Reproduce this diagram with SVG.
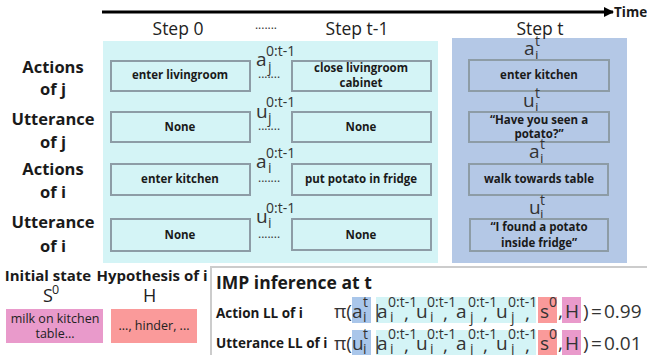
<svg xmlns="http://www.w3.org/2000/svg" width="647" height="355" viewBox="0 0 647 355">
<style>
text{font-family:"Open Sans","Liberation Sans",sans-serif;fill:#1a1a1a}
.lbl{font-size:16.5px;font-weight:700;text-anchor:middle}
.step{font-size:17.5px;text-anchor:middle;fill:#222}
.box{stroke:#8d9ca6;stroke-width:2}
.cb{fill:#d4f4f6}
.bb{fill:#b4c8e6}
.bt{font-size:11.5px;font-weight:700;text-anchor:middle}
.v{font-size:19px;fill:#333}
.sp{font-size:14px;fill:#333}
.dots{font-size:12px;fill:#333}
.f{font-size:19px;fill:#333}
.fs{font-size:14px;fill:#333}
.bh{font-size:15px;font-weight:700}
</style>
<defs>
<marker id="ah" viewBox="0 0 10 10" refX="9" refY="5" markerWidth="3.4" markerHeight="3.4" orient="auto"><path d="M0,0 L10,5 L0,10 z" fill="#000"/></marker>
</defs>

<g id="connectors">
<line x1="102" y1="12" x2="613" y2="12" stroke="#000" stroke-width="3" marker-end="url(#ah)"/>
</g>
<text x="614" y="17" style="font-size:13.5px;font-weight:700">Time</text>

<rect x="103" y="41" width="335" height="222" class="cb"/>
<rect x="452" y="38" width="175" height="225" class="bb"/>

<text x="178" y="35" class="step">Step 0</text>
<text x="266" y="29" class="dots" text-anchor="middle">.......</text>
<text x="357" y="35" class="step">Step t-1</text>
<text x="540" y="35" class="step">Step t</text>

<g id="row-labels">
<text x="53" y="73" class="lbl">Actions</text>
<text x="53" y="95" class="lbl">of j</text>
<text x="53" y="125" class="lbl">Utterance</text>
<text x="53" y="148" class="lbl">of j</text>
<text x="53" y="175" class="lbl">Actions</text>
<text x="53" y="198" class="lbl">of i</text>
<text x="53" y="228" class="lbl">Utterance</text>
<text x="53" y="252" class="lbl">of i</text>
</g>

<g id="s0-aj"><rect x="111" y="61" width="139" height="30" class="box cb"/><text x="180" y="79" class="bt">enter livingroom</text></g>
<g id="s0-uj"><rect x="111" y="112" width="139" height="30" class="box cb"/><text x="180" y="131" class="bt">None</text></g>
<g id="s0-ai"><rect x="111" y="164" width="139" height="31" class="box cb"/><text x="180" y="183" class="bt">enter kitchen</text></g>
<g id="s0-ui"><rect x="111" y="219" width="139" height="32" class="box cb"/><text x="180" y="239" class="bt">None</text></g>

<g id="hist-aj"><text x="256" y="66" class="v">a</text><text x="266" y="56" class="sp">0:t-1</text><text x="268" y="72" class="sp">j</text><text x="258" y="78" class="dots">.......</text></g>
<g id="hist-uj"><text x="256" y="118" class="v">u</text><text x="266" y="107" class="sp">0:t-1</text><text x="268" y="123" class="sp">j</text><text x="258" y="130" class="dots">.......</text></g>
<g id="hist-ai"><text x="256" y="168" class="v">a</text><text x="266" y="158" class="sp">0:t-1</text><text x="268" y="173" class="sp">i</text><text x="258" y="182" class="dots">.......</text></g>
<g id="hist-ui"><text x="256" y="223" class="v">u</text><text x="266" y="213" class="sp">0:t-1</text><text x="268" y="228" class="sp">i</text><text x="258" y="238" class="dots">.......</text></g>

<g id="st1-aj"><rect x="292" y="61" width="139" height="30" class="box cb"/><text x="361" y="72" class="bt">close livingroom</text><text x="361" y="87" class="bt">cabinet</text></g>
<g id="st1-uj"><rect x="292" y="112" width="139" height="30" class="box cb"/><text x="361" y="131" class="bt">None</text></g>
<g id="st1-ai"><rect x="292" y="164" width="139" height="31" class="box cb"/><text x="361" y="183" class="bt">put potato in fridge</text></g>
<g id="st1-ui"><rect x="292" y="219" width="139" height="31" class="box cb"/><text x="361" y="239" class="bt">None</text></g>

<g id="lab-ajt"><text x="524" y="55" class="v">a</text><text x="535" y="46" class="sp">t</text><text x="535" y="61" class="sp">j</text></g>
<g id="st-aj"><rect x="469" y="60" width="140" height="31" class="box bb"/><text x="539" y="79" class="bt">enter kitchen</text></g>
<g id="lab-ujt"><text x="523" y="107" class="v">u</text><text x="535" y="98" class="sp">t</text><text x="535" y="113" class="sp">j</text></g>
<g id="st-uj"><rect x="469" y="112" width="140" height="30" class="box bb"/><text x="539" y="124" class="bt">“Have you seen a</text><text x="539" y="138" class="bt">potato?”</text></g>
<g id="lab-ait"><text x="529" y="158" class="v">a</text><text x="540" y="149" class="sp">t</text><text x="540" y="164" class="sp">i</text></g>
<g id="st-ai"><rect x="469" y="164" width="139" height="31" class="box bb"/><text x="539" y="183" class="bt">walk towards table</text></g>
<g id="lab-uit"><text x="529" y="214" class="v">u</text><text x="540" y="205" class="sp">t</text><text x="540" y="220" class="sp">i</text></g>
<g id="st-ui"><rect x="470" y="219" width="138" height="32" class="box bb"/><text x="539" y="231" class="bt">“I found a potato</text><text x="539" y="247" class="bt">inside fridge”</text></g>

<g id="initial-state">
<text x="48" y="281" class="bh" text-anchor="middle">Initial state</text>
<text x="43" y="302" style="font-size:18px;fill:#222">S</text><text x="52" y="294" style="font-size:12.5px;fill:#222">0</text>
<rect x="6" y="309" width="97" height="34" fill="#e99acb"/>
<text x="55" y="323" text-anchor="middle" style="font-size:12.5px;fill:#222">milk on kitchen</text>
<text x="55" y="338" text-anchor="middle" style="font-size:12.5px;fill:#222">table...</text>
</g>
<g id="hypothesis">
<text x="152" y="281" class="bh" text-anchor="middle">Hypothesis of i</text>
<text x="143" y="302" style="font-size:18px;fill:#222">H</text>
<rect x="111" y="309" width="86" height="34" fill="#fa9a9a"/>
<text x="154" y="330" text-anchor="middle" style="font-size:12.5px;fill:#222">..., hinder, ...</text>
</g>

<g id="imp">
<rect x="211" y="267" width="445" height="100" fill="#fff" stroke="#cccccc" stroke-width="2"/>
<text x="216" y="289" style="font-size:17.5px;font-weight:700">IMP inference at t</text>
<text x="216" y="318" style="font-size:13.5px;font-weight:700">Action LL of i</text>
<text x="216" y="348" style="font-size:13.5px;font-weight:700">Utterance LL of i</text>

<rect x="352" y="297" width="19" height="26" fill="#a9c6ea"/>
<rect x="376" y="297" width="160" height="26" fill="#d4f4f6"/>
<rect x="538" y="297" width="19" height="26" fill="#fa9a9a"/>
<rect x="562" y="297" width="19" height="26" fill="#e99acb"/>
<rect x="352" y="330" width="19" height="26" fill="#a9c6ea"/>
<rect x="376" y="330" width="160" height="26" fill="#d4f4f6"/>
<rect x="538" y="330" width="19" height="26" fill="#fa9a9a"/>
<rect x="562" y="330" width="19" height="26" fill="#e99acb"/>

<text x="334" y="318" class="f">π(</text>
<text x="352" y="318" class="f">a</text><text x="363" y="307" class="fs">t</text><text x="363" y="322" class="fs">i</text>
<text x="372" y="318" class="f">|</text>
<text x="377" y="318" class="f">a</text><text x="388" y="307" class="fs">0:t-1</text><text x="390" y="322" class="fs">i</text><text x="404" y="320" class="f">,</text>
<text x="416" y="318" class="f">u</text><text x="427" y="307" class="fs">0:t-1</text><text x="430" y="322" class="fs">i</text><text x="443" y="320" class="f">,</text>
<text x="456" y="318" class="f">a</text><text x="468" y="307" class="fs">0:t-1</text><text x="470" y="322" class="fs">j</text><text x="483" y="320" class="f">,</text>
<text x="496" y="318" class="f">u</text><text x="508" y="307" class="fs">0:t-1</text><text x="511" y="322" class="fs">j</text><text x="525" y="320" class="f">,</text>
<text x="540" y="318" class="f">s</text><text x="549" y="307" class="fs">0</text>
<text x="558" y="318" class="f">,</text>
<text x="565" y="318" class="f">H</text>
<text x="583" y="318" class="f">)</text><text x="591" y="318" class="f">=</text><text x="604" y="318" class="f">0.99</text>

<text x="334" y="350" class="f">π(</text>
<text x="352" y="350" class="f">u</text><text x="363" y="339" class="fs">t</text><text x="363" y="354" class="fs">i</text>
<text x="372" y="350" class="f">|</text>
<text x="377" y="350" class="f">a</text><text x="388" y="339" class="fs">0:t-1</text><text x="390" y="354" class="fs">i</text><text x="404" y="352" class="f">,</text>
<text x="416" y="350" class="f">u</text><text x="427" y="339" class="fs">0:t-1</text><text x="430" y="354" class="fs">i</text><text x="443" y="352" class="f">,</text>
<text x="456" y="350" class="f">a</text><text x="468" y="339" class="fs">0:t-1</text><text x="470" y="354" class="fs">j</text><text x="483" y="352" class="f">,</text>
<text x="496" y="350" class="f">u</text><text x="508" y="339" class="fs">0:t-1</text><text x="511" y="354" class="fs">j</text><text x="525" y="352" class="f">,</text>
<text x="540" y="350" class="f">s</text><text x="549" y="339" class="fs">0</text>
<text x="558" y="350" class="f">,</text>
<text x="565" y="350" class="f">H</text>
<text x="583" y="350" class="f">)</text><text x="591" y="350" class="f">=</text><text x="604" y="350" class="f">0.01</text>
</g>
</svg>
